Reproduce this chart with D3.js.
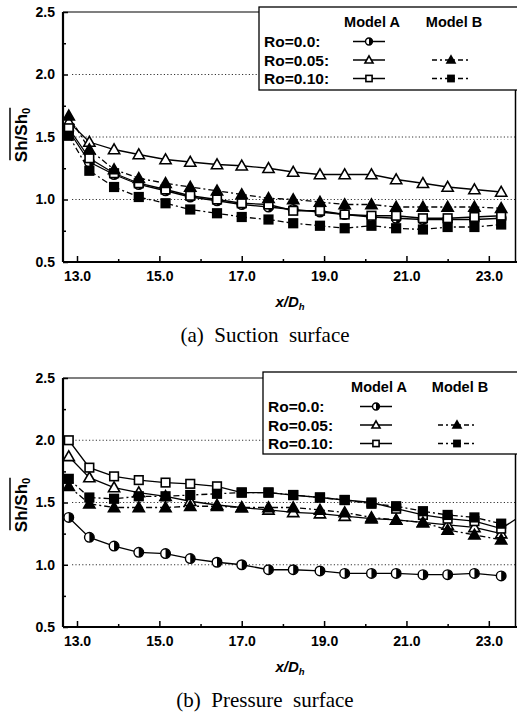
<!DOCTYPE html>
<html><head><meta charset="utf-8">
<script src="https://cdn.jsdelivr.net/npm/d3@7"></script>
<style>body{margin:0;background:#fff}svg{display:block}</style>
</head><body>
<svg id="c" width="517" height="716"></svg>
<script>
const xVals = [12.8, 13.3, 13.9, 14.5, 15.15, 15.75, 16.4, 17.0, 17.65, 18.25, 18.9, 19.5, 20.15, 20.75, 21.4, 22.0, 22.65, 23.3];
const xTicks = [13, 15, 17, 19, 21, 23];
const yTicks = [0.5, 1.0, 1.5, 2.0, 2.5];
const gridVals = [1.0, 1.5, 2.0];

// Suction surface
const sucA00 = [1.55, 1.30, 1.20, 1.12, 1.07, 1.02, 0.99, 0.96, 0.94, 0.92, 0.90, 0.88, 0.86, 0.85, 0.84, 0.84, 0.84, 0.85];
const sucA05 = [1.62, 1.46, 1.40, 1.36, 1.32, 1.30, 1.28, 1.27, 1.25, 1.22, 1.20, 1.20, 1.20, 1.16, 1.13, 1.10, 1.08, 1.06];
const sucA10 = [1.57, 1.33, 1.21, 1.13, 1.08, 1.03, 1.00, 0.97, 0.96, 0.91, 0.91, 0.88, 0.87, 0.87, 0.85, 0.85, 0.86, 0.87];
const sucB05 = [1.67, 1.40, 1.24, 1.17, 1.13, 1.10, 1.07, 1.04, 1.01, 1.00, 0.98, 0.96, 0.96, 0.94, 0.94, 0.94, 0.94, 0.93];
const sucB10 = [1.51, 1.23, 1.10, 1.02, 0.97, 0.92, 0.89, 0.86, 0.84, 0.81, 0.79, 0.77, 0.79, 0.77, 0.76, 0.78, 0.78, 0.80];

// Pressure surface
const preA00 = [1.38, 1.22, 1.15, 1.10, 1.09, 1.05, 1.02, 1.00, 0.96, 0.96, 0.95, 0.93, 0.93, 0.93, 0.92, 0.92, 0.93, 0.91];
const preA05 = [1.87, 1.70, 1.62, 1.58, 1.55, 1.51, 1.48, 1.46, 1.44, 1.42, 1.41, 1.39, 1.37, 1.36, 1.34, 1.32, 1.30, 1.25];
const preA10 = [2.00, 1.78, 1.71, 1.68, 1.66, 1.65, 1.63, 1.58, 1.58, 1.56, 1.54, 1.52, 1.50, 1.45, 1.40, 1.37, 1.35, 1.29];
const preB05 = [1.63, 1.49, 1.46, 1.46, 1.46, 1.47, 1.47, 1.46, 1.46, 1.46, 1.44, 1.42, 1.38, 1.36, 1.34, 1.28, 1.24, 1.20];
const preB10 = [1.69, 1.54, 1.53, 1.55, 1.55, 1.56, 1.57, 1.58, 1.58, 1.56, 1.54, 1.52, 1.49, 1.47, 1.43, 1.40, 1.38, 1.33];

const legendRows = ["Ro=0.0:", "Ro=0.05:", "Ro=0.10:"];
const legendCols = ["Model A", "Model B"];

const svg = d3.select("#c");
const DASH = "6,3,2,3";
const sans = "'Liberation Sans', Arial, sans-serif";
const serif = "'Liberation Serif', 'Times New Roman', serif";

function marker(g, type, x, y, s) {
  s = s || 1;
  if (type === "circle") {
    const r = 4.8 * s;
    g.append("circle").attr("cx", x).attr("cy", y).attr("r", r).attr("fill", "#fff").attr("stroke", "#000").attr("stroke-width", 1.4);
    g.append("path").attr("d", `M${x},${y - r} A${r},${r} 0 0 1 ${x},${y + r} Z`).attr("fill", "#000");
  } else if (type === "tri" || type === "triF") {
    const h = 5.6 * s;
    g.append("path").attr("d", `M${x},${y - h} L${x + h},${y + h * 0.75} L${x - h},${y + h * 0.75} Z`)
      .attr("fill", type === "triF" ? "#000" : "#fff").attr("stroke", "#000").attr("stroke-width", 1.6).attr("stroke-linejoin", "miter");
  } else {
    const a = 4.3 * s;
    g.append("rect").attr("x", x - a).attr("y", y - a).attr("width", 2 * a).attr("height", 2 * a)
      .attr("fill", type === "sqF" ? "#000" : "#fff").attr("stroke", "#000").attr("stroke-width", 1.6);
  }
}

function panel(top, bottom, series, legend, caption, ylabelY) {
  const x = d3.scaleLinear().domain([12.66, 23.66]).range([63, 516]);
  const y = d3.scaleLinear().domain([0.5, 2.5]).range([bottom, top]);
  const g = svg.append("g");
  const clipId = "clip" + top;
  svg.append("clipPath").attr("id", clipId).append("rect").attr("x", 63).attr("y", top).attr("width", 453).attr("height", bottom - top);

  // grid
  g.selectAll(".grid").data(gridVals).enter().append("line")
    .attr("x1", 72).attr("x2", 516).attr("y1", d => y(d)).attr("y2", d => y(d))
    .attr("stroke", "#000").attr("stroke-width", 0.8).attr("stroke-dasharray", "1.2,2.2");

  // axes via d3
  const yAx = d3.axisLeft(y).tickValues(yTicks).tickFormat(d3.format(".1f")).tickSize(-5).tickPadding(8);
  const ya = g.append("g").attr("transform", "translate(63,0)").call(yAx);
  const yMinor = d3.axisLeft(y).tickValues([0.75, 1.25, 1.75, 2.25]).tickSize(-3).tickFormat("");
  g.append("g").attr("transform", "translate(63,0)").call(yMinor).select(".domain").remove();
  const xAx = d3.axisBottom(x).tickValues(xTicks).tickFormat(d3.format(".1f")).tickSize(-6).tickPadding(9);
  const xa = g.append("g").attr("transform", `translate(0,${bottom})`).call(xAx);
  const xMinor = d3.axisBottom(x).tickValues([14, 16, 18, 20, 22]).tickSize(-3).tickFormat("");
  g.append("g").attr("transform", `translate(0,${bottom})`).call(xMinor).select(".domain").remove();
  g.selectAll(".tick line").attr("stroke", "#000").attr("stroke-width", 1.5);
  g.selectAll(".tick text").attr("font-family", sans).attr("font-weight", "bold").attr("font-size", 14).attr("fill", "#000");
  ya.select(".domain").remove(); xa.select(".domain").remove();

  // frame
  g.append("line").attr("x1", 63).attr("x2", 63).attr("y1", top).attr("y2", bottom).attr("stroke", "#000").attr("stroke-width", 2.2);
  g.append("line").attr("x1", 63).attr("x2", 517).attr("y1", bottom).attr("y2", bottom).attr("stroke", "#000").attr("stroke-width", 2.2);
  g.append("line").attr("x1", 63).attr("x2", 517).attr("y1", top).attr("y2", top).attr("stroke", "#000").attr("stroke-width", 1.2);
  g.append("line").attr("x1", 515.5).attr("x2", 515.5).attr("y1", top).attr("y2", bottom).attr("stroke", "#000").attr("stroke-width", 1.5);

  // series
  const pg = g.append("g").attr("clip-path", `url(#${clipId})`);
  const line = d3.line().x(d => x(d[0])).y(d => y(d[1]));
  series.forEach(s => {
    const pts = s.xs.map((xv, i) => [xv, s.vals[i]]);
    pg.append("path").attr("d", line(pts)).attr("fill", "none").attr("stroke", "#000").attr("stroke-width", 1.3)
      .attr("stroke-dasharray", s.dashed ? DASH : null);
  });
  series.forEach(s => {
    s.xs.forEach((xv, i) => { if (xv < 23.5) marker(pg, s.type, x(xv), y(s.vals[i])); });
  });

  // legend
  const L = legend;
  const lg = g.append("g");
  lg.append("rect").attr("x", L.x).attr("y", L.y).attr("width", 530 - L.x).attr("height", L.h).attr("fill", "#fff").attr("stroke", "#000").attr("stroke-width", 1.3);
  lg.selectAll(".col").data(legendCols).enter().append("text")
    .attr("x", (d, i) => i === 0 ? L.ax + 3 : L.bx + 3).attr("y", L.y + 20).attr("text-anchor", "middle")
    .attr("font-family", sans).attr("font-weight", "bold").attr("font-size", 14.5).text(d => d);
  lg.selectAll(".row").data(legendRows).enter().append("text")
    .attr("x", L.x + 5).attr("y", (d, i) => L.y + 40 + i * 18.5)
    .attr("font-family", sans).attr("font-weight", "bold").attr("font-size", 15.5).text(d => d);
  const ltypes = [["circle", null], ["tri", "triF"], ["sq", "sqF"]];
  ltypes.forEach((t, i) => {
    const cy = L.y + 34.5 + i * 18.5;
    lg.append("line").attr("x1", L.ax - 16).attr("x2", L.ax + 16).attr("y1", cy).attr("y2", cy).attr("stroke", "#000").attr("stroke-width", 1.5);
    marker(lg, t[0], L.ax, cy, 0.72);
    if (t[1]) {
      lg.append("line").attr("x1", L.bx - 19).attr("x2", L.bx + 19).attr("y1", cy).attr("y2", cy).attr("stroke", "#000").attr("stroke-width", 1.3).attr("stroke-dasharray", "5,3,2,3");
      marker(lg, t[1], L.bx, cy, 0.72);
    }
  });

  // y label
  const yl = g.append("text").attr("transform", `translate(27,${ylabelY}) rotate(-90)`).attr("text-anchor", "middle")
    .attr("font-family", sans).attr("font-weight", "bold").attr("font-size", 17);
  yl.append("tspan").text("Sh/Sh");
  yl.append("tspan").attr("font-size", 11).attr("dy", 3).text("0");
  const len = yl.node().getComputedTextLength();
  g.append("line").attr("x1", 10).attr("x2", 10).attr("y1", ylabelY - len / 2).attr("y2", ylabelY + len / 2 - 2)
    .attr("stroke", "#000").attr("stroke-width", 1.5);

  // x label
  const xl = g.append("text").attr("x", 290).attr("y", bottom + 45).attr("text-anchor", "middle")
    .attr("font-family", sans).attr("font-weight", "bold").attr("font-style", "italic").attr("font-size", 15);
  xl.append("tspan").text("x/D");
  xl.append("tspan").attr("font-size", 9.5).attr("dy", 3).text("h");

  // caption
  g.append("text").attr("x", 265).attr("y", bottom + 80).attr("text-anchor", "middle")
    .attr("font-family", serif).attr("font-size", 21).attr("xml:space", "preserve").text(caption);
}

const sucSeries = [
  {type: "circle", vals: sucA00, xs: xVals, dashed: false},
  {type: "tri", vals: sucA05, xs: xVals, dashed: false},
  {type: "sq", vals: sucA10, xs: xVals, dashed: false},
  {type: "triF", vals: sucB05, xs: xVals, dashed: true},
  {type: "sqF", vals: sucB10, xs: xVals, dashed: true}
];
const preSeries = [
  {type: "circle", vals: preA00, xs: xVals, dashed: false},
  {type: "tri", vals: preA05, xs: xVals, dashed: false},
  {type: "sq", vals: preA10.concat([1.42]), xs: xVals.concat([23.9]), dashed: false},
  {type: "triF", vals: preB05, xs: xVals, dashed: true},
  {type: "sqF", vals: preB10, xs: xVals, dashed: true}
];

panel(12, 262, sucSeries, {x: 259, y: 7, h: 83, ax: 369, bx: 451}, "(a)  Suction  surface", 135);
panel(378, 627, preSeries, {x: 263, y: 372, h: 82, ax: 376, bx: 457}, "(b)  Pressure  surface", 505);
</script>
</body></html>
